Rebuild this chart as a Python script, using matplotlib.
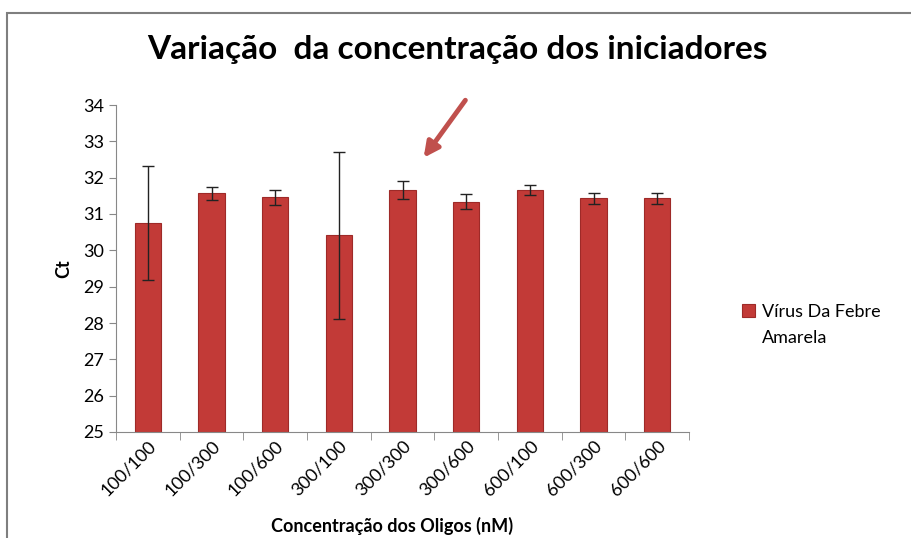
import matplotlib.pyplot as plt
from matplotlib.patches import Rectangle
import numpy as np

# dados
categorias = ['100/100', '100/300', '100/600', '300/100', '300/300',
              '300/600', '600/100', '600/300', '600/600']
ct_medio = [30.74, 31.57, 31.46, 30.41, 31.66, 31.34, 31.66, 31.43, 31.43]
ct_erro = [1.57, 0.18, 0.20, 2.30, 0.24, 0.20, 0.13, 0.16, 0.15]

plt.rcParams['font.family'] = ['Lato', 'DejaVu Sans']

fig = plt.figure(figsize=(9.11, 5.38), dpi=100)
ax = fig.add_axes([116/911, 1 - 432/538, (689 - 116)/911, (432 - 105)/538])

x = np.arange(len(categorias))
ax.bar(x, np.array(ct_medio) - 25, bottom=25, width=0.41, color='#c23a37',
       edgecolor='#9e2a28', linewidth=0.8, label='Vírus Da Febre', zorder=2)
ax.errorbar(x, ct_medio, yerr=ct_erro, fmt='none', ecolor='#222222',
            elinewidth=1.0, capsize=4, capthick=1.0, zorder=3)

ax.set_xlim(-0.5, len(categorias) - 0.5)
ax.set_ylim(25, 34)
ax.set_yticks(range(25, 35))
ax.set_xticks(x)
ax.set_xticklabels(categorias, rotation=45, ha='right', rotation_mode='anchor', fontsize=13)
ax.set_xticks(np.arange(-0.5, len(categorias)), minor=True)
ax.tick_params(axis='x', which='major', length=0, pad=4)
ax.tick_params(axis='x', which='minor', length=6, color='#888888', direction='out')
ax.tick_params(axis='y', length=5, color='#888888', labelsize=13)

for lado in ['top', 'right']:
    ax.spines[lado].set_visible(False)
for lado in ['left', 'bottom']:
    ax.spines[lado].set_color('#888888')

ax.set_ylabel('Ct', fontsize=13, fontweight='bold', labelpad=8)
fig.text(392/911, 1 - 526/538, 'Concentração dos Oligos (nM)',
         ha='center', va='center', fontsize=13, fontweight='bold')

fig.text(457/911, 1 - 50/538, 'Variação  da concentração dos iniciadores', ha='center',
         va='center', fontsize=24, fontweight='bold')

fig.legend(loc='center left', bbox_to_anchor=(742/911, 1 - 312/538), frameon=False,
           fontsize=13, handlelength=0.7, handleheight=0.7, handletextpad=0.4,
           borderaxespad=0, borderpad=0)
fig.text(762/911, 1 - 338/538, 'Amarela', ha='left', va='center', fontsize=13)

# moldura da área do gráfico
fig.patches.append(Rectangle((7/911, -0.05), 1.0, 1 - 13/538 + 0.05, transform=fig.transFigure,
                             fill=False, edgecolor='#7f7f7f', linewidth=1.5))

# seta destacando 300/300
ax.annotate('', xy=(422, 538 - 160), xytext=(467, 538 - 98), xycoords='figure pixels',
            textcoords='figure pixels',
            arrowprops=dict(arrowstyle='-|>,head_length=0.9,head_width=0.45',
                            color='#c0504d', lw=3.5))

fig.savefig('out.png', dpi=100)
